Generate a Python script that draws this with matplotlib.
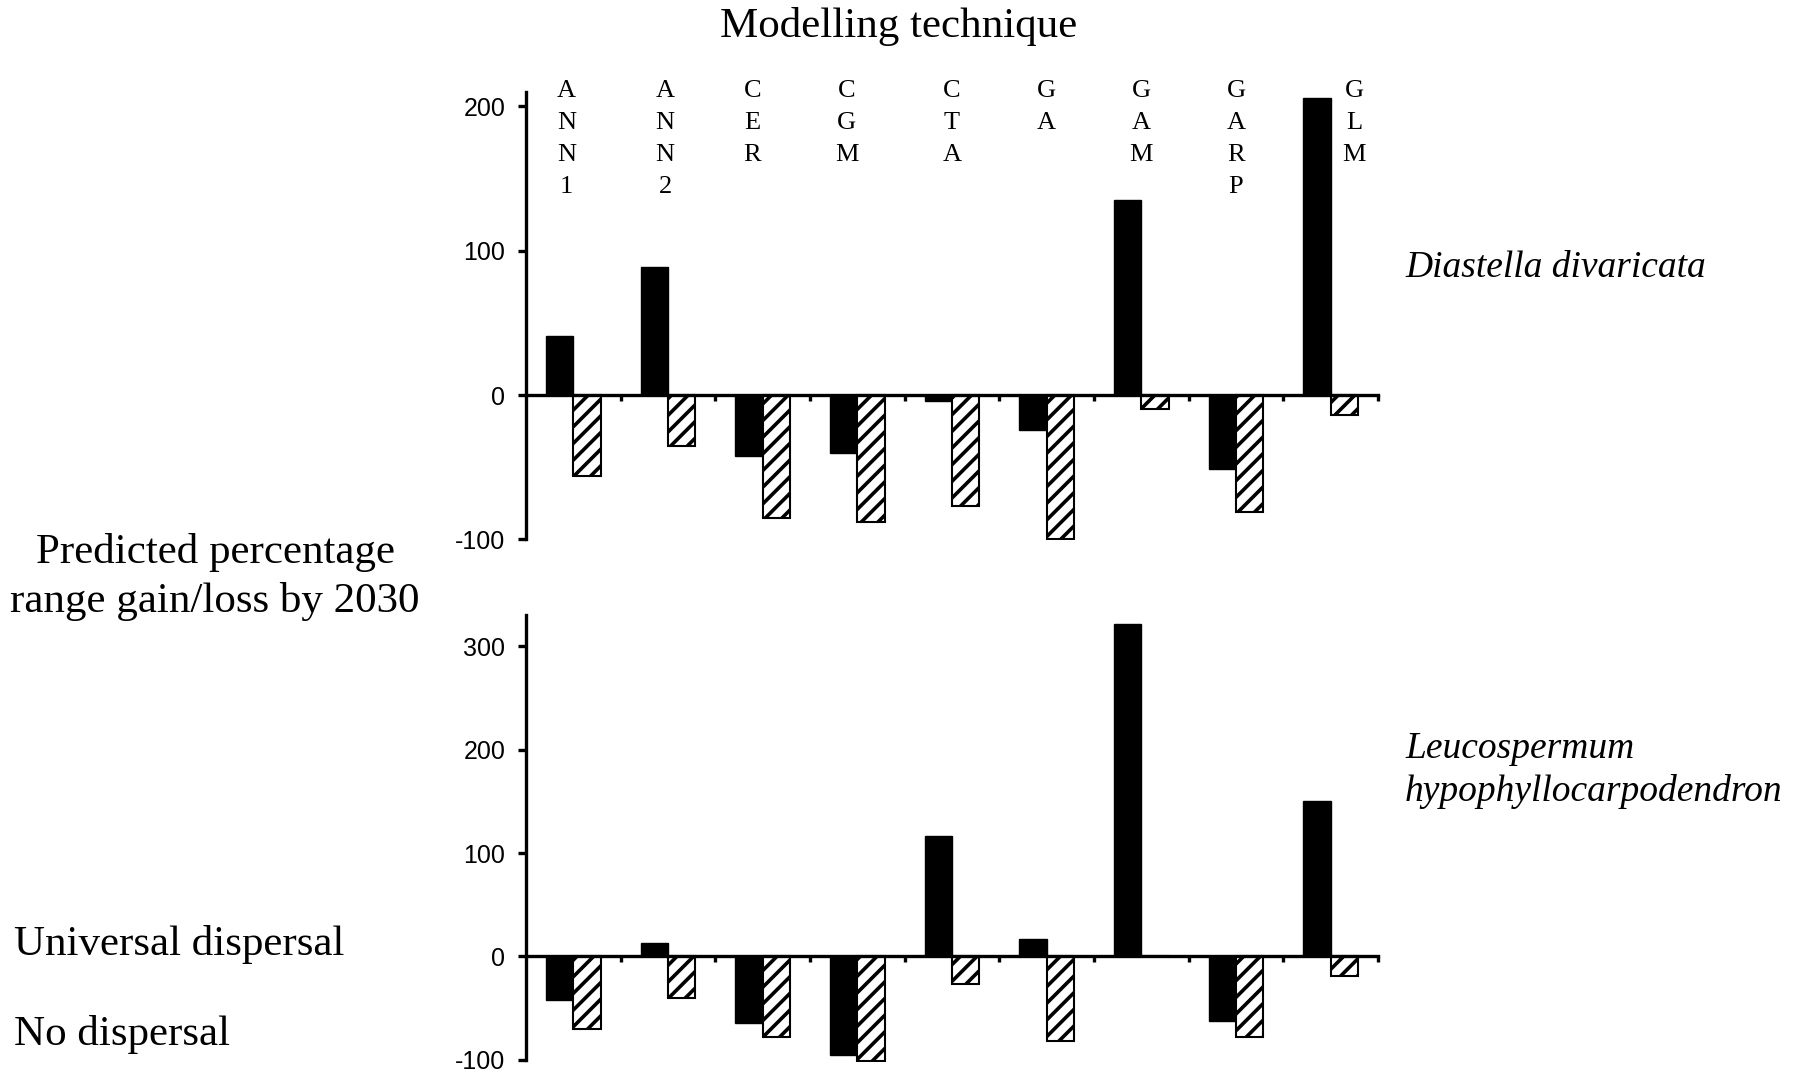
import matplotlib.pyplot as plt
import matplotlib.transforms as mtransforms
import numpy as np

# modelling techniques (letters stacked vertically in the figure)
techniques = ['ANN1', 'ANN2', 'CER', 'CGM', 'CTA', 'GA', 'GAM', 'GARP', 'GLM']

# Diastella divaricata
diastella_universal = [41, 89, -42, -40, -4, -24, 135, -51, 206]
diastella_none = [-56, -35, -85, -88, -77, -100, -10, -81, -14]

# Leucospermum hypophyllocarpodendron
leuco_universal = [-42, 13, -64, -95, 116, 17, 321, -62, 150]
leuco_none = [-70, -40, -78, -101, -27, -82, 0, -78, -19]

plt.rcParams['hatch.linewidth'] = 2.6
serif = ['Liberation Serif', 'DejaVu Serif']
sans = ['Liberation Sans', 'DejaVu Sans']

fig = plt.figure(figsize=(17.94, 10.76), dpi=100)
ax1 = fig.add_axes([0.2932, 0.4981, 0.4749, 0.4164])
ax2 = fig.add_axes([0.2932, 0.0130, 0.4749, 0.4154])

x = np.arange(len(techniques))
w = 0.29


def draw(ax, uni, none, ylim, yticks):
    ax.bar(x, uni, width=-w, align='edge', color='black', edgecolor='black', linewidth=1)
    ax.bar(x, none, width=w, align='edge', color='white', edgecolor='black',
           linewidth=1.5, hatch='//')
    ax.set_xlim(-0.5, len(techniques) - 0.5)
    ax.set_ylim(*ylim)
    ax.spines['top'].set_visible(False)
    ax.spines['right'].set_visible(False)
    ax.spines['bottom'].set_position(('data', 0))
    ax.spines['left'].set_bounds(-100, ylim[1])
    ax.spines['left'].set_linewidth(2.4)
    ax.spines['bottom'].set_linewidth(2.4)
    ax.set_xticks(x + 0.5)
    ax.set_xticklabels([])
    ax.set_yticks(yticks)
    ax.set_yticklabels([str(t) for t in yticks], family=sans, fontsize=18)
    ax.tick_params(axis='x', direction='out', length=4.5, width=2.4)
    ax.tick_params(axis='y', direction='out', length=6, width=2.4, pad=9)


draw(ax1, diastella_universal, diastella_none, (-100.5, 210), [-100, 0, 100, 200])
draw(ax2, leuco_universal, leuco_none, (-102, 330), [-100, 0, 100, 200, 300])

# stacked letters above the top panel, one letter per row
label_shift = [-0.07, -0.03, -0.11, -0.11, 0, 0, 0, 0, 0.25]
trans = mtransforms.blended_transform_factory(ax1.transData, fig.transFigure)
for i, name in enumerate(techniques):
    for j, ch in enumerate(name):
        ax1.text(i + label_shift[i], 1 - (97 + 32 * j) / 1076, ch, transform=trans,
                 ha='center', va='baseline', family=serif, fontsize=19)

fig.text(899 / 1794, 1 - 27 / 1076, 'Modelling technique', ha='center', va='center',
         family=serif, fontsize=31)
fig.text(215 / 1794, 1 - 577 / 1076, 'Predicted percentage\nrange gain/loss by 2030',
         ha='center', va='center', family=serif, fontsize=31, linespacing=1.35)
fig.text(1405 / 1794, 1 - 268 / 1076, 'Diastella divaricata', ha='left', va='center',
         family=serif, style='italic', fontsize=27)
fig.text(1405 / 1794, 1 - 770 / 1076, 'Leucospermum\nhypophyllocarpodendron', ha='left',
         va='center', family=serif, style='italic', fontsize=27, linespacing=1.28)
fig.text(14 / 1794, 1 - 944 / 1076, 'Universal dispersal', ha='left', va='center',
         family=serif, fontsize=31)
fig.text(14 / 1794, 1 - 1035 / 1076, 'No dispersal', ha='left', va='center',
         family=serif, fontsize=31)

fig.savefig('out.png', dpi=100)
